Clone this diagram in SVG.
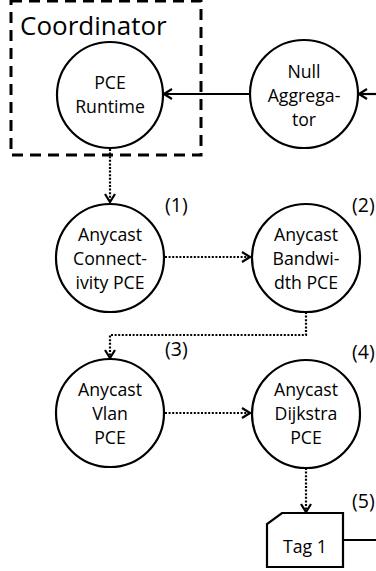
<svg xmlns="http://www.w3.org/2000/svg" width="376" height="571" viewBox="0 0 376 571">
<style>
.node{fill:#fff;stroke:#000;stroke-width:2.2}
.t{font-family:"Open Sans","Liberation Sans",sans-serif;font-size:17.7px;fill:#000;text-anchor:middle}
.lbl{font-family:"Open Sans","Liberation Sans",sans-serif;font-size:19.5px;fill:#000}
.solid{fill:none;stroke:#000;stroke-width:2.2}
.dot{fill:none;stroke:#000;stroke-width:2.2;stroke-dasharray:2 1.6}
</style>
<defs>
<marker id="arr" viewBox="0 0 10 12" refX="9" refY="6" markerWidth="10" markerHeight="12" markerUnits="userSpaceOnUse" orient="auto">
<path d="M1,1 L9,6 L1,11" fill="none" stroke="#000" stroke-width="2.2"/>
</marker>
</defs>
<rect id="coordinator" x="11" y="1" width="190" height="154" fill="none" stroke="#000" stroke-width="3" stroke-dasharray="11 7"/>
<text x="20" y="35" font-family="Open Sans, Liberation Sans, sans-serif" font-size="26">Coordinator</text>
<g id="connectors">
<path class="solid" d="M250,94 L164,94" marker-end="url(#arr)"/>
<path class="solid" d="M376,94 L359,94" marker-end="url(#arr)"/>
<path class="dot" d="M110,149 L110,202" marker-end="url(#arr)"/>
<path class="dot" d="M165,257 L250,257" marker-end="url(#arr)"/>
<path class="dot" d="M306,312 L306,335 L110,335 L110,358" marker-end="url(#arr)"/>
<path class="dot" d="M165,413 L250,413" marker-end="url(#arr)"/>
<path class="dot" d="M306,468 L306,512" marker-end="url(#arr)"/>
<path class="solid" d="M343,540 L376,540"/>
</g>
<g id="pce-runtime">
<circle class="node" cx="110" cy="95" r="53"/>
<text class="t" x="110" y="89">PCE</text>
<text class="t" x="110" y="113">Runtime</text>
</g>
<g id="null-aggregator">
<circle class="node" cx="304" cy="94" r="54"/>
<text class="t" x="304" y="78">Null</text>
<text class="t" x="304" y="102">Aggrega-</text>
<text class="t" x="304" y="126">tor</text>
</g>
<g id="anycast-connectivity">
<circle class="node" cx="110" cy="258" r="54"/>
<text class="t" x="110" y="241">Anycast</text>
<text class="t" x="110" y="265">Connect-</text>
<text class="t" x="110" y="289">ivity PCE</text>
<text class="lbl" x="165" y="212">(1)</text>
</g>
<g id="anycast-bandwidth">
<circle class="node" cx="306" cy="258" r="54"/>
<text class="t" x="306" y="241">Anycast</text>
<text class="t" x="306" y="265">Bandwi-</text>
<text class="t" x="306" y="289">dth PCE</text>
<text class="lbl" x="352" y="212">(2)</text>
</g>
<g id="anycast-vlan">
<circle class="node" cx="110" cy="413" r="54"/>
<text class="t" x="110" y="396">Anycast</text>
<text class="t" x="110" y="420">Vlan</text>
<text class="t" x="110" y="444">PCE</text>
<text class="lbl" x="165" y="356">(3)</text>
</g>
<g id="anycast-dijkstra">
<circle class="node" cx="306" cy="414" r="54"/>
<text class="t" x="306" y="396">Anycast</text>
<text class="t" x="306" y="420">Dijkstra</text>
<text class="t" x="306" y="444">PCE</text>
<text class="lbl" x="352" y="359">(4)</text>
</g>
<g id="tag1">
<path class="node" d="M267,567 L267,524 L282,513 L343,513 L343,567 Z"/>
<text class="t" x="305" y="553">Tag 1</text>
<text class="lbl" x="352" y="508">(5)</text>
</g>
</svg>
